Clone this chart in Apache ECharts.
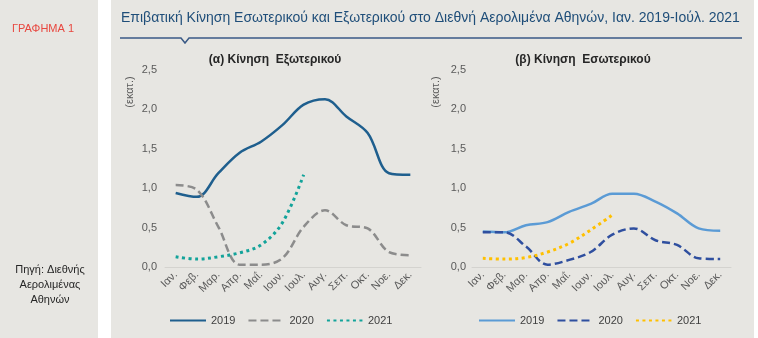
<!DOCTYPE html>
<html>
<head>
<meta charset="utf-8">
<script src="https://cdn.jsdelivr.net/npm/echarts@6/dist/echarts.min.js"></script>
<style>
html,body{margin:0;padding:0;background:#ffffff;}
#c{width:758px;height:338px;}
</style>
</head>
<body>
<div id="c"></div>
<script>
const months = ['Ιαν.','Φεβ.','Μαρ.','Απρ.','Μαΐ.','Ιουν.','Ιουλ.','Αυγ.','Σεπ.','Οκτ.','Νοε.','Δεκ.'];
const yTicks = [0, 0.5, 1.0, 1.5, 2.0, 2.5];
const years = ['2019','2020','2021'];

// (α) Κίνηση Εξωτερικού (εκατ.)
const ext2019 = [0.94, 0.89, 1.19, 1.45, 1.59, 1.80, 2.06, 2.13, 1.91, 1.70, 1.19, 1.17];
const ext2020 = [1.04, 0.98, 0.51, 0.03, 0.03, 0.11, 0.51, 0.72, 0.53, 0.49, 0.19, 0.15];
const ext2021 = [0.13, 0.10, 0.13, 0.18, 0.28, 0.56, 1.17];

// (β) Κίνηση Εσωτερικού (εκατ.)
const dom2019 = [0.45, 0.44, 0.53, 0.57, 0.70, 0.80, 0.93, 0.93, 0.83, 0.68, 0.49, 0.46];
const dom2020 = [0.44, 0.44, 0.26, 0.03, 0.09, 0.19, 0.41, 0.49, 0.34, 0.28, 0.11, 0.10];
const dom2021 = [0.11, 0.10, 0.12, 0.19, 0.30, 0.47, 0.66];

const FONT = '"Liberation Sans", Arial, sans-serif';
const BG = '#e7e6e2';

const chart = echarts.init(document.getElementById('c'), null, {renderer:'canvas'});

function xAxisDef(gi){
  return {
    type:'category', gridIndex:gi, data:months, boundaryGap:true,
    axisLine:{show:true, lineStyle:{color:'#d4d3cf', width:1}},
    axisTick:{show:false},
    axisLabel:{rotate:45, fontSize:11, color:'#595959', fontFamily:FONT, margin:6, interval:0}
  };
}
function yAxisDef(gi, margin){
  return {
    type:'value', gridIndex:gi, min:yTicks[0], max:yTicks[yTicks.length-1], interval:0.5,
    axisLine:{show:false}, axisTick:{show:false}, splitLine:{show:false},
    axisLabel:{fontSize:11, color:'#595959', fontFamily:FONT, margin:margin,
      formatter:v=>v.toFixed(1).replace('.',',')}
  };
}
function lineSeries(name, data, gi, color, type, width){
  return {
    name, type:'line', xAxisIndex:gi, yAxisIndex:gi, data, smooth:0.35,
    showSymbol:false, symbol:'none',
    lineStyle:{color, width, type},
    itemStyle:{color},
    emphasis:{disabled:true}, animation:false
  };
}
function legendDef(left, names){
  return {
    show:true, orient:'horizontal', left:left, top:315, itemWidth:36, itemHeight:12, itemGap:12,
    textStyle:{fontSize:11, color:'#404040', fontFamily:FONT},
    itemStyle:{opacity:0},
    padding:0, data:names, formatter:n=>n.slice(-4), selectedMode:false
  };
}

const option = {
  backgroundColor:'#ffffff',
  animation:false,
  grid:[
    {left:165, top:70, width:256, height:197},
    {left:472, top:70, width:259, height:197}
  ],
  xAxis:[xAxisDef(0), xAxisDef(1)],
  yAxis:[yAxisDef(0, 8), yAxisDef(1, 6)],
  legend:[
    legendDef(169, ['Ext 2019','Ext 2020','Ext 2021']),
    legendDef(478, ['Dom 2019','Dom 2020','Dom 2021'])
  ],
  series:[
    lineSeries('Ext 2019', ext2019, 0, '#1f5f8e', 'solid', 2.5),
    lineSeries('Ext 2020', ext2020, 0, '#8c8c8c', [8,4], 2.5),
    lineSeries('Ext 2021', ext2021, 0, '#13a39a', [3,3.5], 3),
    lineSeries('Dom 2019', dom2019, 1, '#5b9bd5', 'solid', 2.5),
    lineSeries('Dom 2020', dom2020, 1, '#2f4f9f', [8,4], 2.5),
    lineSeries('Dom 2021', dom2021, 1, '#ffc000', [3,3.5], 3)
  ],
  graphic:[
    {type:'rect', shape:{x:0, y:0, width:98, height:338}, style:{fill:BG}, z:-10, silent:true},
    {type:'rect', shape:{x:111, y:0, width:643, height:338}, style:{fill:BG}, z:-10, silent:true},
    {type:'text', left:12, top:23, style:{text:'ΓΡΑΦΗΜΑ 1', fill:'#e8473f', font:'11px '+FONT}},
    {type:'text', x:50, y:285, style:{text:'Πηγή: Διεθνής\nΑερολιμένας\nΑθηνών', fill:'#262626', font:'11px '+FONT, align:'center', verticalAlign:'middle', lineHeight:15}},
    {type:'text', left:121, top:11, style:{text:'Επιβατική Κίνηση Εσωτερικού και Εξωτερικού στο Διεθνή Αερολιμένα Αθηνών, Ιαν. 2019-Ιούλ. 2021', fill:'#1f4e79', font:'14px '+FONT}},
    {type:'polyline', shape:{points:[[120,38],[181,38],[185,43],[189,38],[742,38]]}, style:{stroke:'#3b5a86', lineWidth:1.5, fill:null}},
    {type:'text', x:275, y:60, style:{text:'(α) Κίνηση  Εξωτερικού', fill:'#262626', font:'bold 12px '+FONT, align:'center', verticalAlign:'middle'}},
    {type:'text', x:583, y:60, style:{text:'(β) Κίνηση  Εσωτερικού', fill:'#262626', font:'bold 12px '+FONT, align:'center', verticalAlign:'middle'}},
    {type:'text', x:130, y:92, rotation:Math.PI/2, style:{text:'(εκατ.)', fill:'#595959', font:'11px '+FONT, align:'center', verticalAlign:'middle'}},
    {type:'text', x:436, y:92, rotation:Math.PI/2, style:{text:'(εκατ.)', fill:'#595959', font:'11px '+FONT, align:'center', verticalAlign:'middle'}}
  ]
};
chart.setOption(option);
</script>
</body>
</html>
